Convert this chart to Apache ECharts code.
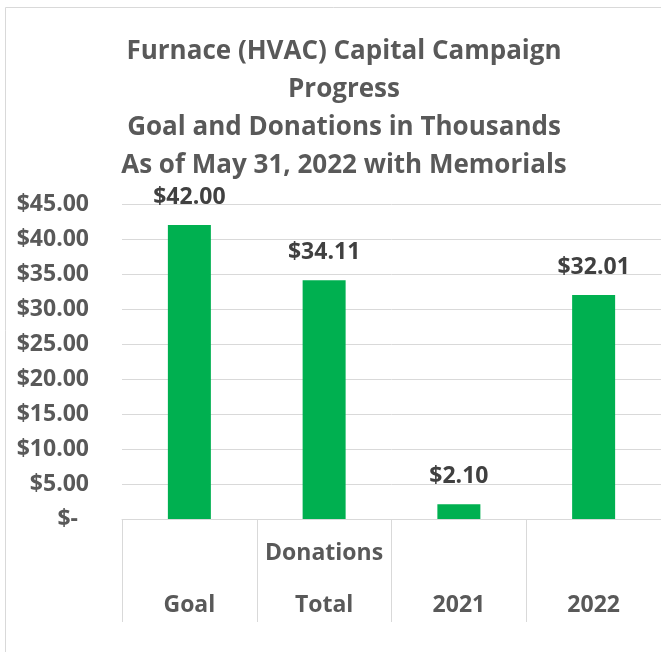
<!DOCTYPE html>
<html><head><meta charset="utf-8">
<script src="https://cdn.jsdelivr.net/npm/echarts@6/dist/echarts.min.js"></script>
<style>html,body{margin:0;padding:0;background:#fff}#c{width:661px;height:652px}</style>
</head><body><div id="c"></div>
<script>
const categories = ['\nGoal', 'Donations\nTotal', '\n2021', '\n2022'];
const values = [42.00, 34.11, 2.10, 32.01];
const titleLines = ['Furnace (HVAC) Capital Campaign', 'Progress', 'Goal and Donations in Thousands', 'As of May 31, 2022 with Memorials'];
const FONT = 'Open Sans';
const LS = 23;
const chart = echarts.init(document.getElementById('c'));
chart.setOption({
  animation: false,
  textStyle: {fontFamily: FONT},
  title: {
    text: titleLines.join('\n'),
    left: 339, textAlign: 'center', top: 28,
    textStyle: {fontFamily: FONT, fontWeight: 'bold', fontSize: 26, color: '#595959', lineHeight: 38}
  },
  graphic: [{type: 'rect', shape: {x: 5.5, y: 7.5, width: 700, height: 700}, style: {fill: 'none', stroke: '#d9d9d9', lineWidth: 1}, silent: true, z: -1}],
  grid: {left: 122, right: -1, top: 204, bottom: 133, containLabel: false},
  xAxis: {
    type: 'category', data: categories,
    axisLine: {lineStyle: {color: '#d9d9d9', width: 1}},
    axisTick: {show: true, length: 103, lineStyle: {color: '#d9d9d9', width: 1}},
    axisLabel: {color: '#595959', fontFamily: FONT, fontWeight: 'bold', fontSize: LS, lineHeight: 52, margin: 8, interval: 0}
  },
  yAxis: {
    type: 'value', min: 0, max: 45, interval: 5,
    axisLine: {show: false}, axisTick: {show: false},
    splitLine: {lineStyle: {color: '#d9d9d9', width: 1}},
    axisLabel: {
      margin: 33, color: '#595959', fontFamily: FONT, fontWeight: 'bold', fontSize: LS,
      formatter: v => v === 0 ? '{z|$-}' : '$' + v.toFixed(2),
      rich: {z: {padding: [0, 11, 0, 0], color: '#595959', fontFamily: FONT, fontWeight: 'bold', fontSize: LS}}
    }
  },
  series: [{
    type: 'bar', data: values, barWidth: 43,
    itemStyle: {color: '#00B050'},
    label: {show: true, position: 'top', distance: 16, color: '#404040', fontFamily: FONT, fontWeight: 'bold', fontSize: LS,
      formatter: p => '$' + p.value.toFixed(2)}
  }]
});
</script></body></html>
